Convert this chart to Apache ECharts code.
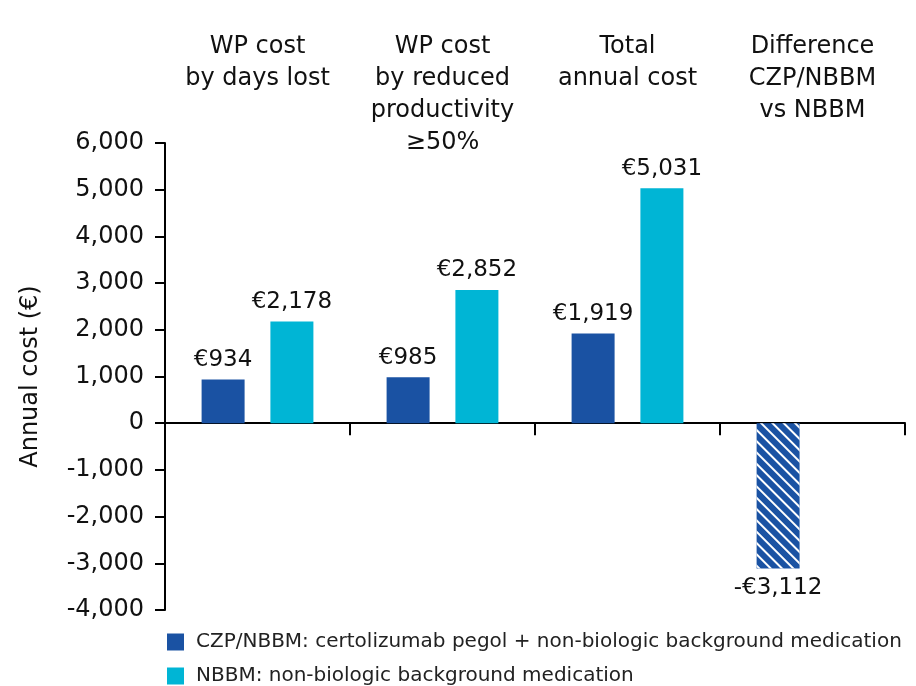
<!DOCTYPE html>
<html>
<head>
<meta charset="utf-8">
<script src="https://cdn.jsdelivr.net/npm/echarts@6/dist/echarts.min.js"></script>
<style>
  html, body { margin: 0; padding: 0; background: #fff; }
  #main { width: 916px; height: 686px; }
</style>
</head>
<body>
<div id="main"></div>
<script>
  // category titles shown above the plot
  var categories = ['WP cost\nby days lost', 'WP cost\nby reduced\nproductivity\n≥50%', 'Total\nannual cost', 'Difference\nCZP/NBBM\nvs NBBM'];
  var czpValues = [934, 985, 1919, -3112];
  var nbbmValues = [2178, 2852, 5031, null];
  var seriesNames = ['CZP/NBBM: certolizumab pegol + non-biologic background medication', 'NBBM: non-biologic background medication'];

  var FONT = 'DejaVu Sans';
  var darkBlue = '#1a52a3';
  var cyan = '#00b5d5';

  function euro(p) {
    var v = p.value;
    return (v < 0 ? '-' : '') + '€' + Math.abs(v).toLocaleString('en-US');
  }

  // the negative bar (difference) is hatched and labelled underneath
  var czpData = czpValues.map(function (v) {
    if (v >= 0) return v;
    return {
      value: v,
      label: { position: 'bottom' },
      itemStyle: {
        decal: {
          symbol: 'rect',
          symbolSize: 1,
          dashArrayX: [1, 0],
          dashArrayY: [1.5, 5.5],
          rotation: Math.PI / 4,
          color: '#ffffff'
        }
      }
    };
  });

  // one legend per row, stacked under the plot
  function legendFor(name, top) {
    return {
      orient: 'vertical',
      left: 162,
      top: top,
      icon: 'rect',
      itemWidth: 17,
      itemHeight: 17,
      textStyle: { fontFamily: FONT, fontSize: 20, color: '#222', padding: [0, 0, 0, 7] },
      data: [name]
    };
  }

  var myChart = echarts.init(document.getElementById('main'));
  var option = {
    animation: false,
    textStyle: { fontFamily: FONT },
    grid: { left: 165, right: 11, top: 143, bottom: 76 },
    legend: [legendFor(seriesNames[0], 627), legendFor(seriesNames[1], 661)],
    xAxis: [
      {
        type: 'category',
        data: categories,
        axisLine: { show: true, onZero: true, lineStyle: { color: '#000', width: 2 } },
        axisTick: { show: true, interval: 0, length: 12, lineStyle: { color: '#000', width: 2 } },
        axisLabel: { show: false }
      },
      {
        type: 'category',
        position: 'top',
        data: categories,
        axisLine: { show: false },
        axisTick: { show: false },
        axisLabel: {
          interval: 0,
          margin: 112,
          verticalAlign: 'top',
          fontFamily: FONT,
          fontSize: 24,
          lineHeight: 32,
          color: '#111'
        }
      }
    ],
    yAxis: {
      type: 'value',
      min: -4000,
      max: 6000,
      interval: 1000,
      name: 'Annual cost (€)',
      nameLocation: 'middle',
      nameGap: 122,
      nameTextStyle: { fontFamily: FONT, fontSize: 24, color: '#111' },
      axisLine: { show: true, lineStyle: { color: '#000', width: 2 } },
      axisTick: { show: true, length: 10, lineStyle: { color: '#000', width: 2 } },
      splitLine: { show: false },
      axisLabel: {
        margin: 21,
        fontFamily: FONT,
        fontSize: 24,
        color: '#111',
        formatter: function (v) { return v.toLocaleString('en-US'); }
      }
    },
    series: [
      {
        name: seriesNames[0],
        type: 'bar',
        barWidth: 43,
        barGap: '60%',
        itemStyle: { color: darkBlue },
        label: { show: true, position: 'top', distance: 8, fontFamily: FONT, fontSize: 23, color: '#111', formatter: euro },
        data: czpData
      },
      {
        name: seriesNames[1],
        type: 'bar',
        barWidth: 43,
        barGap: '60%',
        itemStyle: { color: cyan },
        label: { show: true, position: 'top', distance: 8, fontFamily: FONT, fontSize: 23, color: '#111', formatter: euro },
        data: nbbmValues
      }
    ]
  };
  option && myChart.setOption(option);
</script>
</body>
</html>
